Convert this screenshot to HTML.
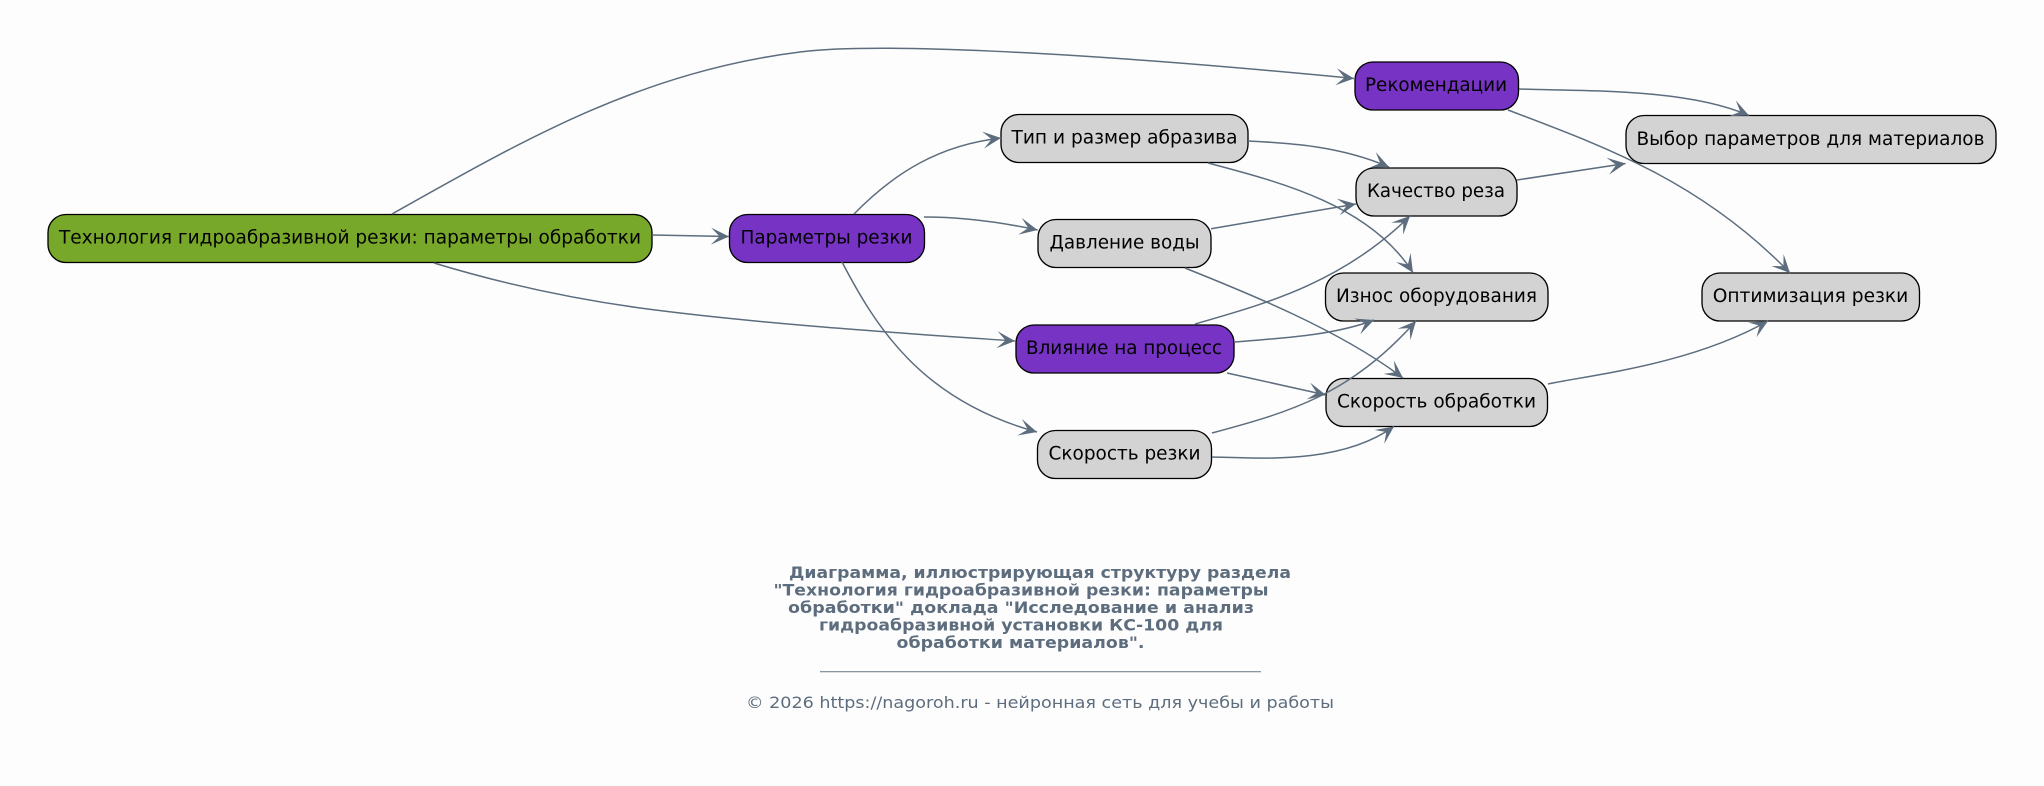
<!DOCTYPE html>
<html><head><meta charset="utf-8">
<style>
html,body{margin:0;padding:0;background:#fdfdfd;width:2044px;height:786px;overflow:hidden}
svg{display:block}
text{font-family:"DejaVu Sans","Liberation Sans",sans-serif}
.n{stroke:#000;stroke-width:1.33}
.g{fill:#d3d3d3}.p{fill:#7733c4}.v{fill:#77a82a}
.e{fill:none;stroke:#5d6d7e;stroke-width:1.5}
.l{font-size:18.67px;fill:#000;text-anchor:middle}
.c{font-size:16px;font-weight:bold;fill:#5d6d7e;text-anchor:middle}
</style></head><body>
<svg width="2044" height="786" viewBox="0 0 2044 786" xmlns="http://www.w3.org/2000/svg">
<defs>
<marker id="a" markerUnits="userSpaceOnUse" markerWidth="24" markerHeight="24" refX="20" refY="12" orient="auto">
<polygon points="20,12 2,3.5 10.5,12 2,20.5" fill="#5d6d7e"/>
</marker>
</defs>
<rect width="2044" height="786" fill="#fdfdfd"/>

<rect class="n v" x="48" y="214.5" width="604" height="48" rx="18"/>
<rect class="n p" x="729.5" y="214.5" width="195" height="48" rx="18"/>
<rect class="n p" x="1355" y="62" width="163.5" height="48" rx="18"/>
<rect class="n g" x="1001" y="114.5" width="247" height="48" rx="18"/>
<rect class="n g" x="1356" y="168" width="161" height="48" rx="18"/>
<rect class="n g" x="1626" y="115.5" width="370" height="48" rx="18"/>
<rect class="n g" x="1038" y="219.5" width="173" height="48" rx="18"/>
<rect class="n g" x="1325.5" y="273" width="222.5" height="48" rx="18"/>
<rect class="n g" x="1702" y="273" width="217.5" height="48" rx="18"/>
<rect class="n p" x="1016" y="325" width="218" height="48" rx="18"/>
<rect class="n g" x="1326" y="378.5" width="221.5" height="48" rx="18"/>
<rect class="n g" x="1037.5" y="430.5" width="174" height="48" rx="18"/>

<path class="e" marker-end="url(#a)" d="M392,214 C520,142 640,72 800,52 C870,43 1060,50 1354,78.5"/>
<path class="e" marker-end="url(#a)" d="M652,235 L729,236.5"/>
<path class="e" marker-end="url(#a)" d="M434,263 C490,280 560,297 640,308 C760,324 900,333 1015,341"/>
<path class="e" marker-end="url(#a)" d="M854,214 C895,172 940,145 1001,138"/>
<path class="e" marker-end="url(#a)" d="M924,217 C960,217 1000,222 1037.6,230"/>
<path class="e" marker-end="url(#a)" d="M842,262 C875,325 920,400 1037,432"/>
<path class="e" marker-end="url(#a)" d="M1248,141 C1290,143 1340,146 1389,167"/>
<path class="e" marker-end="url(#a)" d="M1208,163 C1280,182 1370,205 1413,272.7"/>
<path class="e" marker-end="url(#a)" d="M1211,228.7 L1356,204"/>
<path class="e" marker-end="url(#a)" d="M1185,268 C1245,292 1340,330 1403,378"/>
<path class="e" marker-end="url(#a)" d="M1195,324 C1260,305 1340,285 1410,216"/>
<path class="e" marker-end="url(#a)" d="M1234,342 C1285,338 1335,335 1374,320"/>
<path class="e" marker-end="url(#a)" d="M1227,373 L1326,395"/>
<path class="e" marker-end="url(#a)" d="M1212,433 C1290,412 1350,395 1416,321"/>
<path class="e" marker-end="url(#a)" d="M1212,457 C1260,458 1340,465 1394,426.5"/>
<path class="e" marker-end="url(#a)" d="M1548,384 C1590,375 1690,365 1768,321"/>
<path class="e" marker-end="url(#a)" d="M1517,180 L1625.6,163.5"/>
<path class="e" marker-end="url(#a)" d="M1519,89 C1600,91 1690,90 1749,115.5"/>
<path class="e" marker-end="url(#a)" d="M1508,110 C1600,145 1700,180 1790,273"/>

<text class="l" x="350" y="243.5" textLength="582" lengthAdjust="spacingAndGlyphs">Технология гидроабразивной резки: параметры обработки</text>
<text class="l" x="826.5" y="243.5" textLength="172" lengthAdjust="spacingAndGlyphs">Параметры резки</text>
<text class="l" x="1436" y="91" textLength="142" lengthAdjust="spacingAndGlyphs">Рекомендации</text>
<text class="l" x="1124.5" y="143.5" textLength="226" lengthAdjust="spacingAndGlyphs">Тип и размер абразива</text>
<text class="l" x="1436" y="197" textLength="138" lengthAdjust="spacingAndGlyphs">Качество реза</text>
<text class="l" x="1810.5" y="145" textLength="348" lengthAdjust="spacingAndGlyphs">Выбор параметров для материалов</text>
<text class="l" x="1124.5" y="248.5" textLength="150" lengthAdjust="spacingAndGlyphs">Давление воды</text>
<text class="l" x="1436.5" y="302" textLength="201" lengthAdjust="spacingAndGlyphs">Износ оборудования</text>
<text class="l" x="1810.5" y="302" textLength="195.6" lengthAdjust="spacingAndGlyphs">Оптимизация резки</text>
<text class="l" x="1124" y="354" textLength="196" lengthAdjust="spacingAndGlyphs">Влияние на процесс</text>
<text class="l" x="1436.5" y="407.5" textLength="199" lengthAdjust="spacingAndGlyphs">Скорость обработки</text>
<text class="l" x="1124.5" y="459.5" textLength="152" lengthAdjust="spacingAndGlyphs">Скорость резки</text>

<text class="c" x="1040" y="578" textLength="502" lengthAdjust="spacingAndGlyphs">Диаграмма, иллюстрирующая структуру раздела</text>
<text class="c" x="1021" y="595.5" textLength="495" lengthAdjust="spacingAndGlyphs">"Технология гидроабразивной резки: параметры</text>
<text class="c" x="1021" y="613" textLength="466" lengthAdjust="spacingAndGlyphs">обработки" доклада "Исследование и анализ</text>
<text class="c" x="1021" y="630.5" textLength="404" lengthAdjust="spacingAndGlyphs">гидроабразивной установки КС-100 для</text>
<text class="c" x="1020.5" y="648" textLength="248" lengthAdjust="spacingAndGlyphs">обработки материалов".</text>
<rect x="820" y="671" width="441" height="1.3" fill="#8a96a3"/>
<text x="1040" y="708" font-size="16" fill="#5d6d7e" text-anchor="middle" textLength="588" lengthAdjust="spacingAndGlyphs">© 2026 https://nagoroh.ru - нейронная сеть для учебы и работы</text>
</svg>
</body></html>
